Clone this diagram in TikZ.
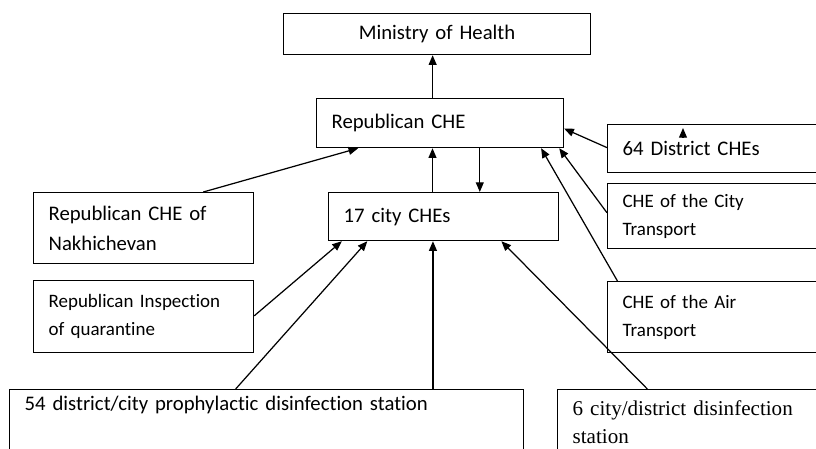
\documentclass[tikz,border=0pt]{standalone}
\usepackage{fontspec}
\setmainfont{Carlito}[Ligatures=NoCommon]
\newfontfamily\timesfont{Liberation Serif}
\usetikzlibrary{calc,arrows.meta}

\begin{document}
\begin{tikzpicture}[x=0.02cm, y=-0.02cm,
  box/.style={draw, line width=0.7pt, anchor=north west, align=left,
    inner xsep=0.3cm, inner ysep=0pt, text width=#1,
    font=\fontsize{11.8pt}{17pt}\selectfont},
  small/.style={font=\fontsize{10.8pt}{16pt}\selectfont},
  arr/.style={line width=0.7pt, -{Triangle[length=5.5pt,width=4.5pt]}}]
  % page in pixels: 816 x 449, y grows downwards
  \useasboundingbox (0,0) rectangle (816,449);
  \clip (0,0) rectangle (816,449);
  % top of the tree
  \node[box=5.54cm, align=center, minimum height=0.82cm] (moh) at (283,13) {Ministry of Health};
  \node[box=4.34cm, minimum height=0.98cm] (rep) at (316,98) {Republican CHE};
  \node[box=4.0cm, minimum height=0.96cm] (city) at (328,192) {17 city CHEs};
  % left column
  \node[box=3.8cm, minimum height=1.42cm] (nakh) at (33,192) {Republican CHE of\\Nakhichevan};
  \node[box=3.8cm, small, minimum height=1.44cm] (quar) at (33,280) {Republican Inspection\\of quarantine};
  % right column (runs off the page)
  \node[box=4.6cm, minimum height=0.96cm] (dist) at (607,124) {64 District CHEs};
  \node[box=4.6cm, small, minimum height=1.3cm] (ctrans) at (607,183) {CHE of the City\\Transport};
  \node[box=4.6cm, small, minimum height=1.42cm] (atrans) at (607,281) {CHE of the Air\\Transport};
  % stations at the bottom (run off the page)
  \node[box=9.68cm, inner ysep=2pt, text height=10pt, text depth=60pt] (st54) at (9,389)
    {54 district/city prophylactic disinfection station};
  \node[box=5.4cm, inner ysep=2pt, text height=13pt, text depth=60pt,
    font=\timesfont\fontsize{12pt}{15.5pt}\selectfont] (st6) at (557,389)
    {6 city/district disinfection\\station};
  % connectors
  \draw[arr] ($(rep.north west)!0.47!(rep.north east)$) coordinate (a1) -- (a1 |- moh.south);
  \draw[arr] ($(city.north west)!0.452!(city.north east)$) coordinate (a2) -- (a2 |- rep.south);
  \draw[arr] ($(rep.south west)!0.66!(rep.south east)$) coordinate (a3) -- (a3 |- city.north);
  \draw[arr] ($(nakh.north west)!0.77!(nakh.north east)$) -- ($(rep.south west)!0.17!(rep.south east)$);
  \draw[arr] ($(dist.north west)!0.48!(dist.south west)$) -- ($(rep.north east)!0.61!(rep.south east)$);
  \draw[arr] ($(ctrans.north west)!0.45!(ctrans.south west)$) -- ($(rep.south west)!0.98!(rep.south east)$);
  \draw[arr] ($(atrans.north west)!0.04!(atrans.north east)$) -- ($(rep.south west)!0.907!(rep.south east)$);
  \draw[arr] ($(quar.north east)!0.49!(quar.south east)$) -- ($(city.south west)!0.06!(city.south east)$);
  \draw[arr] ($(st54.north west)!0.44!(st54.north east)$) -- ($(city.south west)!0.17!(city.south east)$);
  \draw[arr] ($(st54.north west)!0.823!(st54.north east)$) coordinate (a4) -- (a4 |- city.south);
  \draw[arr] ($(st6.north west)!0.30!(st6.north east)$) -- ($(city.south west)!0.75!(city.south east)$);
  % stray tip inside the district box
  \draw[arr] ($(dist.north west)+(76,13)$) -- ++(0,-9);
\end{tikzpicture}
\end{document}
